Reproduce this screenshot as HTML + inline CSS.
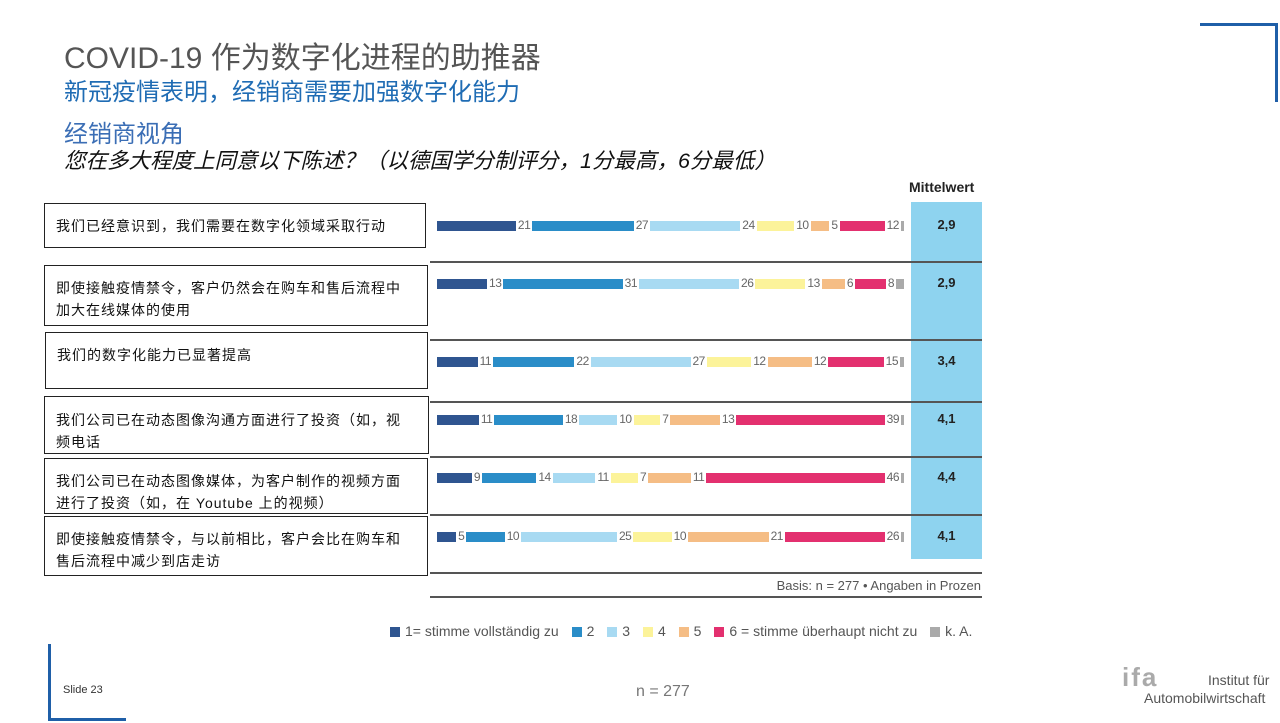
<!DOCTYPE html>
<html><head><meta charset="utf-8"><style>
*{margin:0;padding:0;box-sizing:border-box}
body{width:1280px;height:723px;background:#fff;position:relative;overflow:hidden;font-family:"Liberation Sans","Noto Sans CJK SC",sans-serif}
.a{position:absolute;white-space:nowrap}
.box{position:absolute;border:1px solid #222;font-size:14px;letter-spacing:1px;color:#111;padding:11px 0 0 11px;line-height:22px;white-space:nowrap}
.row{position:absolute;left:437px;width:467px;height:11px;display:flex;align-items:center}
.row .b{height:10px;flex-basis:0}
.row .l{font-size:12px;color:#666;padding:0 2px;letter-spacing:-0.5px;line-height:11px;font-family:"Liberation Sans Narrow","Liberation Sans",sans-serif}
.hl{position:absolute;left:430px;width:552px;height:2px;background:#555}
.mv{position:absolute;left:911px;width:71px;text-align:center;font-weight:bold;font-size:13px;color:#222}
.lg{display:inline-block;width:10px;height:10px;margin:0 5px 0 9px;vertical-align:-1px}
</style></head><body>
<div class="a" style="left:1200px;top:23px;width:78px;height:3px;background:#1f5fa8"></div>
<div class="a" style="left:1275px;top:23px;width:3px;height:79px;background:#1f5fa8"></div>
<div class="a" style="left:48px;top:644px;width:3px;height:77px;background:#1f5fa8"></div>
<div class="a" style="left:48px;top:718px;width:78px;height:3px;background:#1f5fa8"></div>

<div class="a" style="left:64px;top:33px;font-size:30px;color:#555">COVID-19 作为数字化进程的助推器</div>
<div class="a" style="left:64px;top:72px;font-size:24px;color:#1f6cb4">新冠疫情表明，经销商需要加强数字化能力</div>
<div class="a" style="left:64px;top:114px;font-size:24px;color:#3b6eb5">经销商视角</div>
<div class="a" style="left:64px;top:144px;font-size:21.5px;color:#111;font-style:italic">您在多大程度上同意以下陈述？（以德国学分制评分，1分最高，6分最低）</div>

<div class="box" style="left:44px;top:203px;width:382px;height:45px">我们已经意识到，我们需要在数字化领域采取行动</div>
<div class="box" style="left:44px;top:265px;width:384px;height:61px">即使接触疫情禁令，客户仍然会在购车和售后流程中<br>加大在线媒体的使用</div>
<div class="box" style="left:45px;top:332px;width:383px;height:57px;padding-top:11px">我们的数字化能力已显著提高</div>
<div class="box" style="left:44px;top:396px;width:385px;height:58px;padding-top:12px">我们公司已在动态图像沟通方面进行了投资（如，视<br>频电话</div>
<div class="box" style="left:44px;top:458px;width:384px;height:56px;padding-top:11px">我们公司已在动态图像媒体，为客户制作的视频方面<br>进行了投资（如，在 Youtube 上的视频）</div>
<div class="box" style="left:44px;top:516px;width:384px;height:60px;padding-top:11px">即使接触疫情禁令，与以前相比，客户会比在购车和<br>售后流程中减少到店走访</div>

<div class="a" style="left:911px;top:202px;width:71px;height:357px;background:#8ed3ef"></div>
<div class="a" style="left:909px;top:179px;font-size:14px;font-weight:bold;color:#222">Mittelwert</div>

<div class="hl" style="top:261px"></div>
<div class="hl" style="top:339px"></div>
<div class="hl" style="top:401px"></div>
<div class="hl" style="top:456px"></div>
<div class="hl" style="top:514px"></div>
<div class="hl" style="top:572px"></div>
<div class="hl" style="top:596px"></div>
<div class="a" style="right:299px;top:578px;font-size:13px;color:#555">Basis: n = 277 • Angaben in Prozen</div>

<div class="mv" style="top:217px">2,9</div>
<div class="mv" style="top:275px">2,9</div>
<div class="mv" style="top:353px">3,4</div>
<div class="mv" style="top:411px">4,1</div>
<div class="mv" style="top:469px">4,4</div>
<div class="mv" style="top:528px">4,1</div>

<div id="rows"></div>

<div class="a" style="left:381px;top:623px;font-size:14px;color:#555">
<span class="lg" style="background:#2f5590"></span>1= stimme vollständig zu <span class="lg" style="background:#2a8dc8"></span>2 <span class="lg" style="background:#a8daf2"></span>3 <span class="lg" style="background:#fcf39a"></span>4 <span class="lg" style="background:#f5bd85"></span>5 <span class="lg" style="background:#e3306f"></span>6 = stimme überhaupt nicht zu <span class="lg" style="background:#aaa"></span>k. A.</div>

<div class="a" style="left:63px;top:684px;font-size:11px;color:#333">Slide 23</div>
<div class="a" style="left:636px;top:683px;font-size:16px;color:#777">n = 277</div>
<div class="a" style="left:1122px;top:664px;font-size:26px;font-weight:bold;color:#aaa;letter-spacing:2px;line-height:26px">ifa</div>
<div class="a" style="left:1208px;top:672px;font-size:14px;color:#555">Institut für</div>
<div class="a" style="left:1144px;top:690px;font-size:14px;color:#555">Automobilwirtschaft</div>

<script>
var C=["#2f5590","#2a8dc8","#a8daf2","#fcf39a","#f5bd85","#e3306f"];
var D=[[225,[21,27,24,10,5,12],3],[283,[13,31,26,13,6,8],8],[361,[11,22,27,12,12,15],4],[419,[11,18,10,7,13,39],3],[477,[9,14,11,7,11,46],3],[536,[5,10,25,10,21,26],3]];
var h="";
D.forEach(function(r){
 h+='<div class="row" style="top:'+(r[0]-5)+'px">';
 r[1].forEach(function(v,i){h+='<div class="b" style="flex-grow:'+v+';background:'+C[i]+'"></div><div class="l">'+v+'</div>';});
 h+='<div class="b" style="flex:0 0 '+r[2]+'px;background:#aaa"></div></div>';
});
document.getElementById("rows").innerHTML=h;
</script>
</body></html>
